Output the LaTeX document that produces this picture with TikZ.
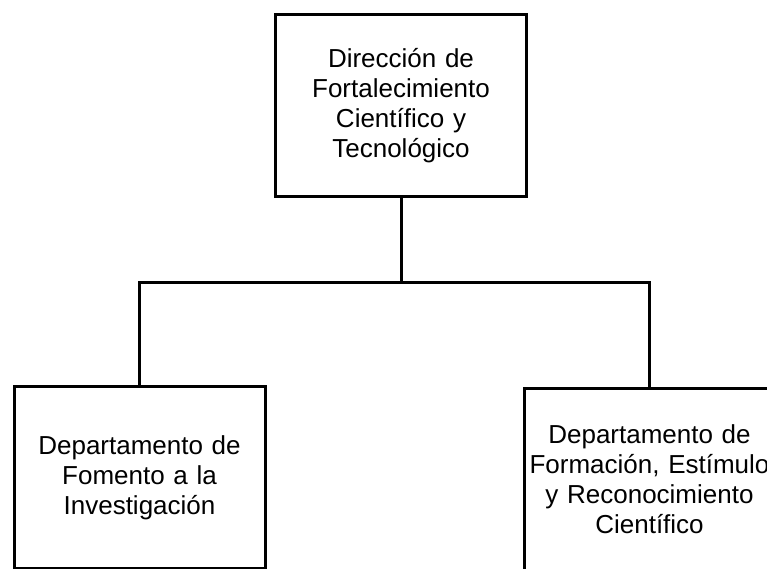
\documentclass[tikz,border=0pt]{standalone}
\usepackage{fontspec}
\setmainfont{Liberation Sans}
\begin{document}
\begin{tikzpicture}[x=1pt,y=-1pt,
  box/.style={draw, line width=3pt, minimum width=251pt, minimum height=182pt, inner sep=0pt, text width=251pt, align=center, font=\fontsize{26}{30}\selectfont},
  link/.style={line width=3pt}]
\useasboundingbox (0,0) rectangle (767,568);
\node[box] (top) at (401,105.5) {Dirección de\\Fortalecimiento\\Científico y\\Tecnológico};
\node[box] (left) at (139.5,477.5) {Departamento de\\Fomento a la\\Investigación};
\node[box] (right) at (649.5,479.5) {Departamento de\\Formación, Estímulo\\y Reconocimiento\\Científico};
\coordinate (j) at (401,282);
\draw[link] (top.south) -- (j);
\draw[link] (left.north) |- (j) -| (right.north);
\end{tikzpicture}
\end{document}
